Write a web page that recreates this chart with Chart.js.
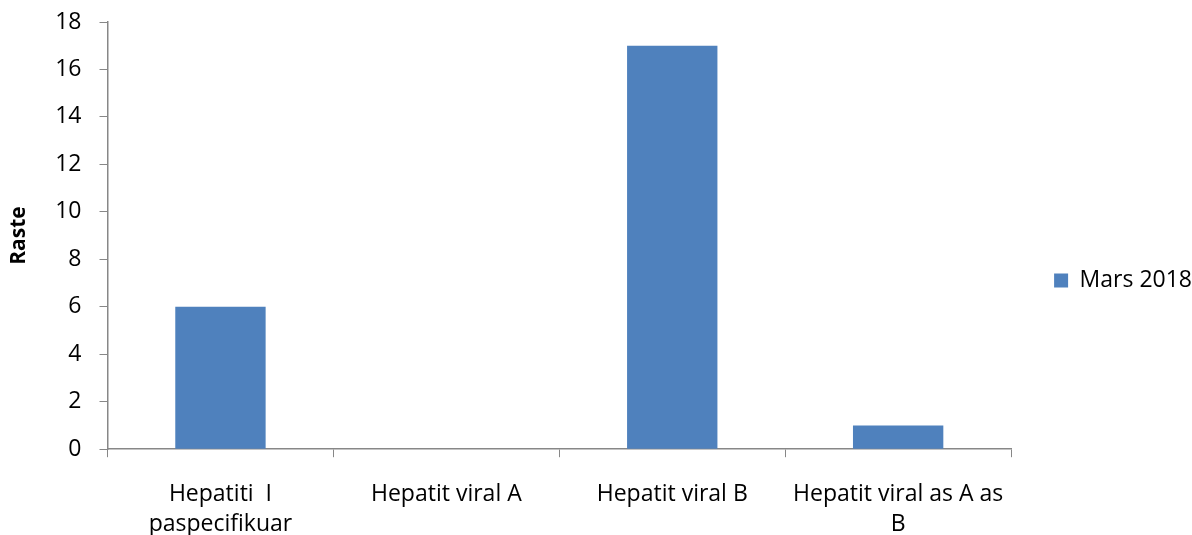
<!DOCTYPE html>
<html>
<head>
<meta charset="utf-8">
<script src="https://cdn.jsdelivr.net/npm/chart.js@4"></script>
<style>
  html, body { margin:0; padding:0; background:#fff; }
  #wrap { width:1192px; height:535px; }
</style>
</head>
<body>
<div id="wrap"><canvas id="chart"></canvas></div>
<script>
// data
const categories = [['Hepatiti  I', 'paspecifikuar'], 'Hepatit viral A', 'Hepatit viral B', ['Hepatit viral as A as', 'B']];
const seriesName = 'Mars 2018';
const values = [6, 0, 17, 1];
const yTicks = { min: 0, max: 18, step: 2 };
const yTitle = 'Raste';

const axisGrey = '#878787';
Chart.defaults.font.family = '"Open Sans", "Noto Sans", sans-serif';
Chart.defaults.font.size = 23;
Chart.defaults.color = '#000';

new Chart(document.getElementById('chart'), {
  type: 'bar',
  data: {
    labels: categories,
    datasets: [{ label: seriesName, data: values, backgroundColor: '#4F81BD',
                 barPercentage: 0.4, categoryPercentage: 1.0 }]
  },
  options: {
    responsive: true, maintainAspectRatio: false, animation: false,
    layout: { padding: { top: 0, right: -10, left: 0, bottom: -26 } },
    plugins: {
      tooltip: { enabled: false },
      legend: { position: 'right',
                labels: { boxWidth: 14, boxHeight: 14, padding: 43, font: { size: 23 } } }
    },
    scales: {
      x: {
        grid: { drawOnChartArea: false, color: axisGrey, tickLength: 8, offset: true },
        border: { color: axisGrey, width: 1.5 },
        ticks: { padding: 22, maxRotation: 0, autoSkip: false, font: { lineHeight: 1.3 } }
      },
      y: {
        min: yTicks.min, max: yTicks.max,
        ticks: { stepSize: yTicks.step, padding: 18 },
        grid: { drawOnChartArea: false, color: axisGrey, tickLength: 8 },
        border: { color: axisGrey, width: 1.5 },
        title: { display: true, text: yTitle, font: { weight: 'bold', size: 21 }, padding: { top: 6, bottom: 6 } },
        afterFit: s => { s.paddingTop = 22; }
      }
    }
  }
});
</script>
</body>
</html>
